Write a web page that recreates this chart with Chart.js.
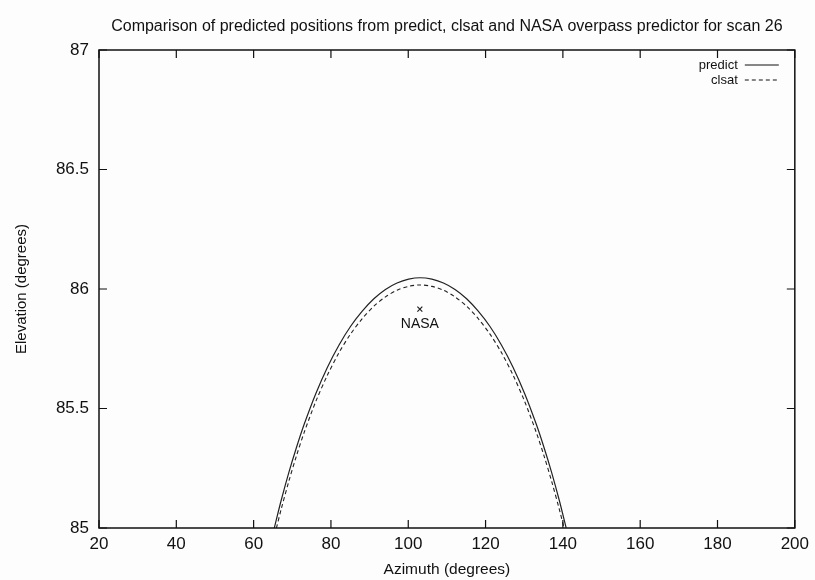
<!DOCTYPE html>
<html>
<head>
<meta charset="utf-8">
<script src="https://cdn.jsdelivr.net/npm/chart.js@4.4.1/dist/chart.umd.min.js"></script>
<style>
  html, body { margin: 0; padding: 0; background: #fdfdfd; }
  #wrap { width: 815px; height: 580px; position: relative; }
</style>
</head>
<body>
<div id="wrap"><canvas id="chart"></canvas></div>
<script>
// azimuth / elevation (degrees)
const predictAz = [65.35, 67.1, 69.1, 71.1, 73.1, 76.1, 79.1, 82.1, 85.1, 88.1, 91.1, 94.1, 97.1, 100.1,
  103.1, 106.1, 109.1, 112.1, 115.1, 118.1, 121.1, 124.1, 127.1, 130.1, 133.1, 135.1, 137.1, 139.1, 140.85];
const predictEl = [85.0, 85.114, 85.232, 85.338, 85.435, 85.563, 85.673, 85.766, 85.844, 85.907, 85.959, 85.998, 86.025, 86.041,
  86.047, 86.041, 86.025, 85.998, 85.959, 85.907, 85.844, 85.766, 85.673, 85.563, 85.435, 85.338, 85.232, 85.114, 85.0];

const clsatAz = [65.9, 67.1, 69.1, 71.1, 73.1, 76.1, 79.1, 82.1, 85.1, 88.1, 91.1, 94.1, 97.1, 100.1,
  103.1, 106.1, 109.1, 112.1, 115.1, 118.1, 121.1, 124.1, 127.1, 130.1, 133.1, 135.1, 137.1, 139.1, 140.3];
const clsatEl = [85.0, 85.077, 85.195, 85.303, 85.401, 85.530, 85.640, 85.734, 85.812, 85.876, 85.928, 85.967, 85.995, 86.011,
  86.017, 86.011, 85.995, 85.967, 85.928, 85.876, 85.812, 85.734, 85.640, 85.530, 85.401, 85.303, 85.195, 85.077, 85.0];

const nasaAz = [103];
const nasaEl = [85.916];
const nasaLabel = 'NASA';

const xTicks = [20, 40, 60, 80, 100, 120, 140, 160, 180, 200];
const yTicks = [85, 85.5, 86, 86.5, 87];
const yTickLabels = ['85', '85.5', '86', '86.5', '87'];

const titleText = 'Comparison of predicted positions from predict, clsat and NASA overpass predictor for scan 26';

const FONT = "'Liberation Sans', Arial, sans-serif";
const INK = '#111';

function toPoints(xs, ys) {
  return xs.map((x, i) => ({ x, y: ys[i] }));
}

// frame + inward ticks on all four sides, gnuplot style
const framePlugin = {
  id: 'frame',
  afterDraw(chart) {
    const { ctx, chartArea: a, scales } = chart;
    const len = 8;
    ctx.save();
    ctx.strokeStyle = INK;
    ctx.lineWidth = 1.5;
    ctx.strokeRect(a.left, a.top, a.right - a.left, a.bottom - a.top);
    ctx.lineWidth = 1.2;
    ctx.beginPath();
    xTicks.forEach((v) => {
      const px = scales.x.getPixelForValue(v);
      ctx.moveTo(px, a.bottom); ctx.lineTo(px, a.bottom - len);
      ctx.moveTo(px, a.top); ctx.lineTo(px, a.top + len);
    });
    yTicks.forEach((v) => {
      const py = scales.y.getPixelForValue(v);
      ctx.moveTo(a.left, py); ctx.lineTo(a.left + len, py);
      ctx.moveTo(a.right, py); ctx.lineTo(a.right - len, py);
    });
    ctx.stroke();

    // title, centred over the plot box
    ctx.fillStyle = INK;
    ctx.font = '16px ' + FONT;
    ctx.textAlign = 'center';
    ctx.textBaseline = 'middle';
    ctx.fillText(titleText, (a.left + a.right) / 2, a.top - 23);

    // NASA label under its marker
    const nx = scales.x.getPixelForValue(nasaAz[0]);
    const ny = scales.y.getPixelForValue(nasaEl[0]);
    ctx.font = '14px ' + FONT;
    ctx.fillText(nasaLabel, nx, ny + 15);

    // key in the top right corner
    ctx.font = '13px ' + FONT;
    ctx.textAlign = 'right';
    chart.data.datasets.slice(0, 2).forEach((ds, i) => {
      const y = a.top + 15 + i * 15;
      ctx.fillText(ds.label, a.right - 57, y);
      ctx.beginPath();
      ctx.lineWidth = 1;
      ctx.setLineDash(ds.borderDash || []);
      ctx.moveTo(a.right - 50, y);
      ctx.lineTo(a.right - 16, y);
      ctx.stroke();
    });
    ctx.restore();
  },
};

new Chart(document.getElementById('chart'), {
  type: 'line',
  data: {
    datasets: [
      {
        label: 'predict',
        data: toPoints(predictAz, predictEl),
        borderColor: '#222',
        borderWidth: 1.2,
        pointRadius: 0,
        tension: 0.3,
      },
      {
        label: 'clsat',
        data: toPoints(clsatAz, clsatEl),
        borderColor: '#222',
        borderWidth: 1.1,
        borderDash: [4, 3],
        pointRadius: 0,
        tension: 0.3,
      },
      {
        label: 'NASA',
        data: toPoints(nasaAz, nasaEl),
        showLine: false,
        pointStyle: 'crossRot',
        pointRadius: 3.5,
        borderColor: '#222',
        borderWidth: 1.2,
      },
    ],
  },
  options: {
    responsive: true,
    maintainAspectRatio: false,
    animation: false,
    layout: { padding: { left: 0, right: 18, top: 50, bottom: 0 } },
    plugins: {
      legend: { display: false },
      tooltip: { enabled: false },
      title: { display: false },
    },
    scales: {
      x: {
        type: 'linear',
        min: 20,
        max: 200,
        afterBuildTicks: (scale) => { scale.ticks = xTicks.map((v) => ({ value: v })); },
        afterFit: (scale) => { scale.height = 52; },
        grid: { display: false, drawTicks: false, tickLength: 0 },
        border: { display: false },
        ticks: { color: INK, padding: 6, font: { family: FONT, size: 17 }, maxRotation: 0 },
        title: {
          display: true,
          text: 'Azimuth (degrees)',
          color: INK,
          font: { family: FONT, size: 15.5 },
          padding: { top: 0, bottom: 1 },
        },
      },
      y: {
        min: 85,
        max: 87,
        afterBuildTicks: (scale) => { scale.ticks = yTicks.map((v) => ({ value: v })); },
        afterFit: (scale) => { scale.width = 99; },
        grid: { display: false, drawTicks: false, tickLength: 0 },
        border: { display: false },
        ticks: {
          color: INK,
          padding: 10,
          font: { family: FONT, size: 17 },
          callback: (v) => yTickLabels[yTicks.indexOf(v)],
        },
        title: {
          display: true,
          text: 'Elevation (degrees)',
          color: INK,
          font: { family: FONT, size: 15 },
          padding: { top: 13, bottom: 0 },
        },
      },
    },
  },
  plugins: [framePlugin],
});
</script>
</body>
</html>
